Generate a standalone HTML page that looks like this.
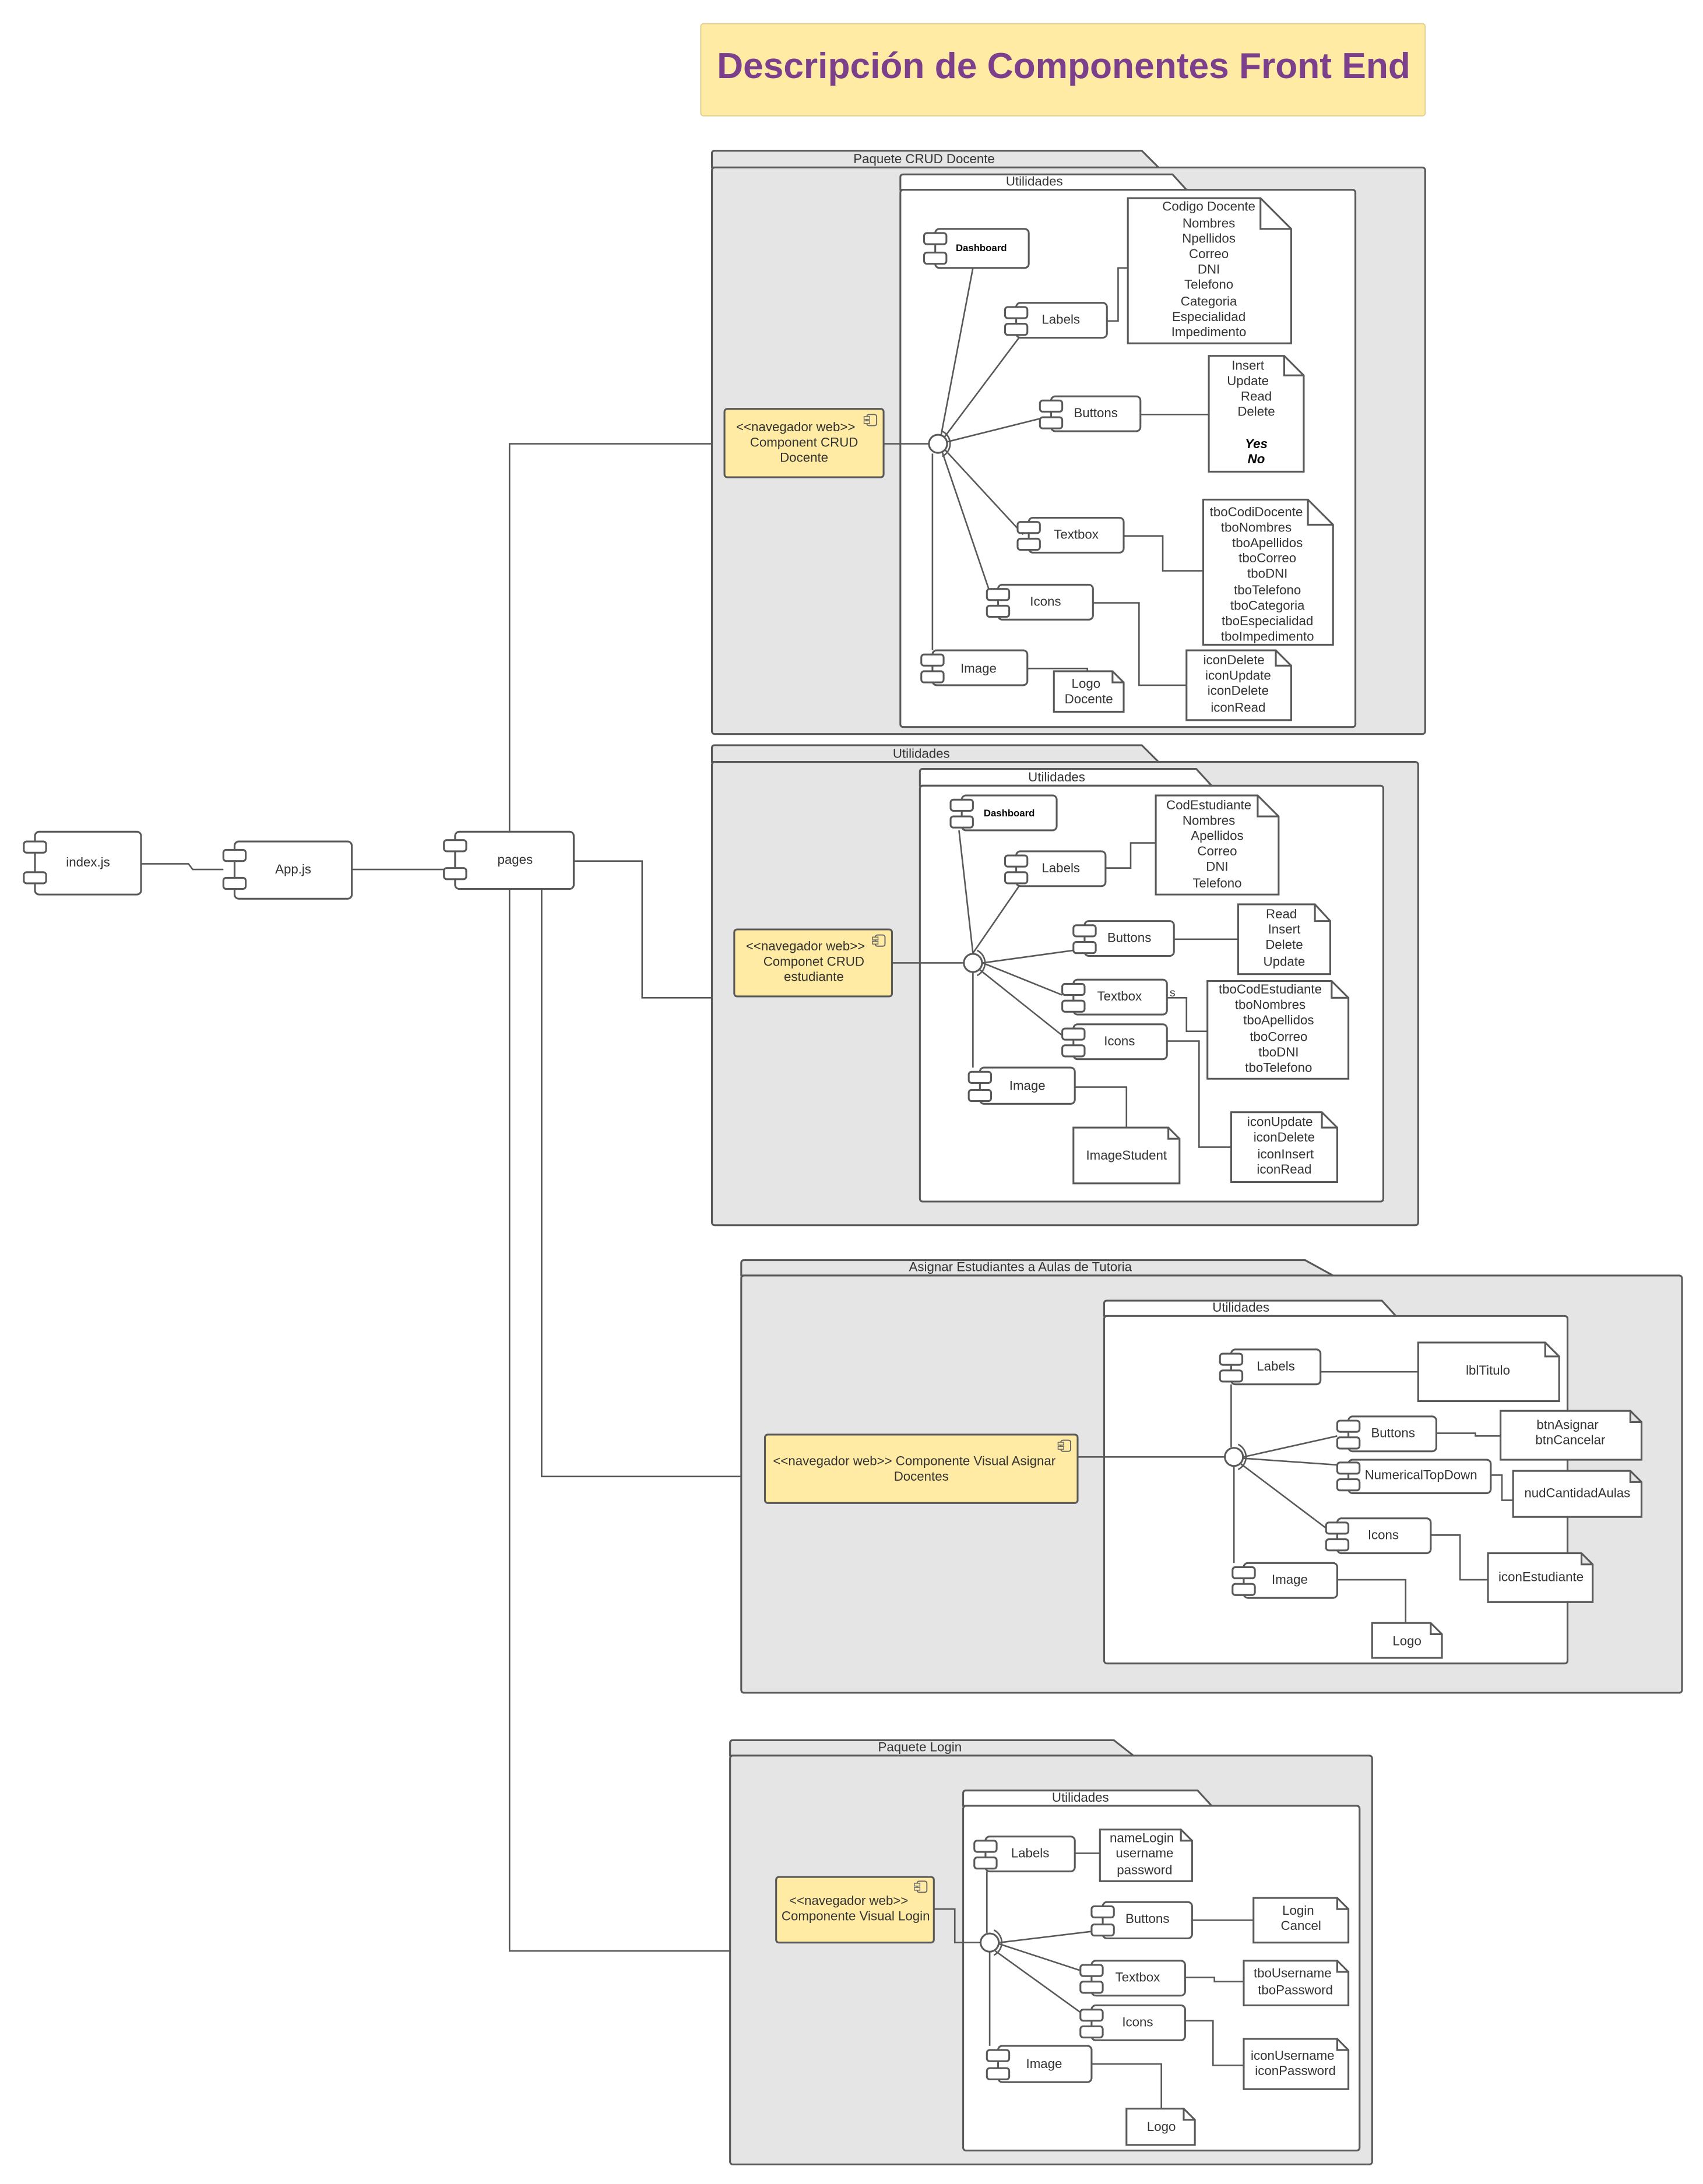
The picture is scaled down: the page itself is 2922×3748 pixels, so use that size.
<!DOCTYPE html>
<html><head><meta charset="utf-8"><style>
html,body{margin:0;padding:0;background:#fff}
svg{display:block}
text{font-family:"Liberation Sans",sans-serif;font-size:9.3px;fill:#333;text-anchor:middle}
.pk{fill:#e5e5e5;stroke:#595959;stroke-width:1.3}
.ut{fill:#fff;stroke:#595959;stroke-width:1.3}
.c{fill:#fff;stroke:#595959;stroke-width:1.3}
.y{fill:#ffeba3;stroke:#595959;stroke-width:1.3}
.l{fill:none;stroke:#595959;stroke-width:1.1}
</style></head><body>
<svg width="2922" height="3748" viewBox="0 0 1220 1565" xmlns="http://www.w3.org/2000/svg">
<defs>
<g id="ci"><rect x="0" y="0" width="7" height="8" rx="1.5" fill="none" stroke="#666" stroke-width="0.8"/><rect x="-2" y="1.5" width="4" height="2" fill="#ffeba3" stroke="#666" stroke-width="0.6"/><rect x="-2" y="4.5" width="4" height="2" fill="#ffeba3" stroke="#666" stroke-width="0.6"/></g>
</defs>

<!-- Title -->
<rect x="502" y="17" width="519" height="66" rx="2" fill="#ffeba3" stroke="#e0d090" stroke-width="0.8"/>
<text x="762" y="56" style="font-size:26px;font-weight:bold;fill:#7b3f8c">Descripción de Componentes Front End</text>

<!-- Left chain -->
<g>
<rect x="25" y="596" width="76" height="45" rx="3" class="c"/><rect x="17" y="603" width="16" height="8" rx="2" class="c"/><rect x="17" y="625" width="16" height="8" rx="2" class="c"/>
<text x="63" y="621">index.js</text>
<rect x="168" y="603" width="84" height="41" rx="3" class="c"/><rect x="160" y="609" width="16" height="8" rx="2" class="c"/><rect x="160" y="629" width="16" height="8" rx="2" class="c"/>
<text x="210" y="626">App.js</text>
<rect x="326" y="596" width="85" height="41" rx="3" class="c"/><rect x="318" y="602" width="16" height="8" rx="2" class="c"/><rect x="318" y="622" width="16" height="8" rx="2" class="c"/>
<text x="369" y="619">pages</text>
<path class="l" d="M101 619H135L138 623H160M252 623H318M365 596V318H510M411 617H460V715H510M388 637V1058H531M365 637V1398H523"/>
</g>

<!-- ===== Package 1 ===== -->
<path class="pk" d="M510 120V110Q510 108 512 108H818L830 120Z"/>
<rect x="510" y="120" width="511" height="406" rx="2" class="pk"/>
<text x="662" y="117">Paquete CRUD Docente</text>
<path class="ut" d="M645 136V127Q645 125 647 125H840L850 136Z"/>
<rect x="645" y="136" width="326" height="385" rx="2" class="ut"/>
<text x="741" y="133">Utilidades</text>
<rect x="519" y="293" width="114" height="49" rx="2" class="y"/>
<use href="#ci" x="621" y="297"/>
<text x="570" y="309">&lt;&lt;navegador web&gt;&gt;</text><text x="576" y="320">Component CRUD</text><text x="576" y="331">Docente</text>
<path class="l" d="M633 318H665"/>
<path class="l" d="M697 192L673 318M730 242L673 318M745 300L673 318M733 383L673 318M710 427L673 318M668 325V466M793 230H801V192H808M817 297H866M805 384H833V409H862M783 432H816V491H850M736 479H779V486"/>
<circle cx="672" cy="318" r="6.5" fill="#fff" stroke="#595959" stroke-width="1.3"/>
<path class="l" d="M675 309A10 10 0 0 1 675 327"/>
<!-- comps -->
<g><rect x="670" y="164" width="67" height="28" rx="3" class="c"/><rect x="662" y="167" width="16" height="8" rx="2" class="c"/><rect x="662" y="181" width="16" height="8" rx="2" class="c"/><text x="703" y="180" style="font-size:7px;font-weight:bold;fill:#000">Dashboard</text></g>
<g><rect x="728" y="217" width="65" height="25" rx="3" class="c"/><rect x="720" y="220" width="16" height="8" rx="2" class="c"/><rect x="720" y="232" width="16" height="8" rx="2" class="c"/><text x="760" y="232">Labels</text></g>
<g><rect x="753" y="284" width="64" height="25" rx="3" class="c"/><rect x="745" y="287" width="16" height="8" rx="2" class="c"/><rect x="745" y="299" width="16" height="8" rx="2" class="c"/><text x="785" y="299">Buttons</text></g>
<g><rect x="737" y="371" width="68" height="25" rx="3" class="c"/><rect x="729" y="374" width="16" height="8" rx="2" class="c"/><rect x="729" y="386" width="16" height="8" rx="2" class="c"/><text x="771" y="386">Textbox</text></g>
<g><rect x="715" y="419" width="68" height="25" rx="3" class="c"/><rect x="707" y="422" width="16" height="8" rx="2" class="c"/><rect x="707" y="434" width="16" height="8" rx="2" class="c"/><text x="749" y="434">Icons</text></g>
<g><rect x="668" y="466" width="68" height="25" rx="3" class="c"/><rect x="660" y="469" width="16" height="8" rx="2" class="c"/><rect x="660" y="481" width="16" height="8" rx="2" class="c"/><text x="701" y="482">Image</text></g>
<!-- notes -->
<path class="c" d="M808 142H903L925 164V246H808Z M903 142V164H925"/>
<text x="866" y="151">Codigo Docente</text><text x="866" y="163">Nombres</text><text x="866" y="174">Npellidos</text><text x="866" y="185">Correo</text><text x="866" y="196">DNI</text><text x="866" y="207">Telefono</text><text x="866" y="219">Categoria</text><text x="866" y="230">Especialidad</text><text x="866" y="241">Impedimento</text>
<path class="c" d="M866 255H920L934 269V338H866Z M920 255V269H934"/>
<text x="894" y="265">Insert</text><text x="894" y="276">Update</text><text x="900" y="287">Read</text><text x="900" y="298">Delete</text><text x="900" y="321" style="font-weight:bold;font-style:italic;fill:#000">Yes</text><text x="900" y="332" style="font-weight:bold;font-style:italic;fill:#000">No</text>
<path class="c" d="M862 358H937L955 376V462H862Z M937 358V376H955"/>
<text x="900" y="370">tboCodiDocente</text><text x="900" y="381">tboNombres</text><text x="908" y="392">tboApellidos</text><text x="908" y="403">tboCorreo</text><text x="908" y="414">tboDNI</text><text x="908" y="426">tboTelefono</text><text x="908" y="437">tboCategoria</text><text x="908" y="448">tboEspecialidad</text><text x="908" y="459">tboImpedimento</text>
<path class="c" d="M850 466H914L925 477V516H850Z M914 466V477H925"/>
<text x="884" y="476">iconDelete</text><text x="887" y="487">iconUpdate</text><text x="887" y="498">iconDelete</text><text x="887" y="510">iconRead</text>
<path class="c" d="M755 481H797L805 489V510H755Z M797 481V489H805"/>
<text x="778" y="493">Logo</text><text x="780" y="504">Docente</text>

<!-- ===== Package 2 ===== -->
<path class="pk" d="M510 546V536Q510 534 512 534H818L830 546Z"/>
<rect x="510" y="546" width="506" height="332" rx="2" class="pk"/>
<text x="660" y="543">Utilidades</text>
<path class="ut" d="M659 563V553Q659 551 661 551H857L868 563Z"/>
<rect x="659" y="563" width="332" height="298" rx="2" class="ut"/>
<text x="757" y="560">Utilidades</text>
<rect x="526" y="666" width="113" height="48" rx="2" class="y"/>
<use href="#ci" x="627" y="670"/>
<text x="577" y="681">&lt;&lt;navegador web&gt;&gt;</text><text x="583" y="692">Componet CRUD</text><text x="583" y="703">estudiante</text>
<path class="l" d="M639 690H690"/>
<path class="l" d="M687 595L697 683M730 635L697 683M769 681L704 690M761 713L704 690M761 742L702 695M697 697V765M792 622H810V604H828M841 673H887M836 715H850V739H865M836 746H859V822H882M770 779H807V808"/>
<circle cx="697" cy="690" r="6.5" fill="#fff" stroke="#595959" stroke-width="1.3"/>
<path class="l" d="M700 681A10 10 0 0 1 700 699"/>
<text x="840" y="714" style="font-size:8px">s</text>
<g><rect x="689" y="570" width="68" height="25" rx="3" class="c"/><rect x="681" y="573" width="16" height="8" rx="2" class="c"/><rect x="681" y="585" width="16" height="8" rx="2" class="c"/><text x="723" y="585" style="font-size:7px;font-weight:bold;fill:#000">Dashboard</text></g>
<g><rect x="728" y="610" width="64" height="25" rx="3" class="c"/><rect x="720" y="613" width="16" height="8" rx="2" class="c"/><rect x="720" y="625" width="16" height="8" rx="2" class="c"/><text x="760" y="625">Labels</text></g>
<g><rect x="777" y="660" width="64" height="25" rx="3" class="c"/><rect x="769" y="663" width="16" height="8" rx="2" class="c"/><rect x="769" y="675" width="16" height="8" rx="2" class="c"/><text x="809" y="675">Buttons</text></g>
<g><rect x="769" y="702" width="67" height="25" rx="3" class="c"/><rect x="761" y="705" width="16" height="8" rx="2" class="c"/><rect x="761" y="717" width="16" height="8" rx="2" class="c"/><text x="802" y="717">Textbox</text></g>
<g><rect x="769" y="734" width="67" height="25" rx="3" class="c"/><rect x="761" y="737" width="16" height="8" rx="2" class="c"/><rect x="761" y="749" width="16" height="8" rx="2" class="c"/><text x="802" y="749">Icons</text></g>
<g><rect x="702" y="765" width="68" height="26" rx="3" class="c"/><rect x="694" y="768" width="16" height="8" rx="2" class="c"/><rect x="694" y="781" width="16" height="8" rx="2" class="c"/><text x="736" y="781">Image</text></g>
<path class="c" d="M828 570H901L916 585V641H828Z M901 570V585H916"/>
<text x="866" y="580">CodEstudiante</text><text x="866" y="591">Nombres</text><text x="872" y="602">Apellidos</text><text x="872" y="613">Correo</text><text x="872" y="624">DNI</text><text x="872" y="636">Telefono</text>
<path class="c" d="M887 648H942L953 660V698H887Z M942 648V660H953"/>
<text x="918" y="658">Read</text><text x="920" y="669">Insert</text><text x="920" y="680">Delete</text><text x="920" y="692">Update</text>
<path class="c" d="M865 703H954L966 715V773H865Z M954 703V715H966"/>
<text x="910" y="712">tboCodEstudiante</text><text x="910" y="723">tboNombres</text><text x="916" y="734">tboApellidos</text><text x="916" y="746">tboCorreo</text><text x="916" y="757">tboDNI</text><text x="916" y="768">tboTelefono</text>
<path class="c" d="M882 797H947L958 808V847H882Z M947 797V808H958"/>
<text x="917" y="807">iconUpdate</text><text x="920" y="818">iconDelete</text><text x="921" y="830">iconInsert</text><text x="920" y="841">iconRead</text>
<path class="c" d="M769 808H837L845 816V848H769Z M837 808V816H845"/>
<text x="807" y="831">ImageStudent</text>

<!-- ===== Package 3 ===== -->
<path class="pk" d="M531 914V905Q531 903 533 903H935L955 914Z"/>
<rect x="531" y="914" width="674" height="299" rx="2" class="pk"/>
<text x="731" y="911">Asignar Estudiantes a Aulas de Tutoria</text>
<path class="ut" d="M791 943V934Q791 932 793 932H990L1000 943Z"/>
<rect x="791" y="943" width="332" height="249" rx="2" class="ut"/>
<text x="889" y="940">Utilidades</text>
<rect x="548" y="1028" width="224" height="49" rx="2" class="y"/>
<use href="#ci" x="760" y="1032"/>
<text x="655" y="1050">&lt;&lt;navegador web&gt;&gt; Componente Visual Asignar</text><text x="660" y="1061">Docentes</text>
<path class="l" d="M772 1044H877"/>
<path class="l" d="M882 992V1037M958 1029L891 1044M962 1050L891 1045M950 1095L889 1049M884 1051V1120M946 983H1016M1029 1027H1057V1029H1075M1068 1057H1076V1075H1084M1025 1100H1046V1132H1066M958 1132H1007V1163"/>
<circle cx="884" cy="1044" r="6.5" fill="#fff" stroke="#595959" stroke-width="1.3"/>
<path class="l" d="M887 1035A10 10 0 0 1 887 1053"/>
<g><rect x="882" y="967" width="64" height="25" rx="3" class="c"/><rect x="874" y="970" width="16" height="8" rx="2" class="c"/><rect x="874" y="982" width="16" height="8" rx="2" class="c"/><text x="914" y="982">Labels</text></g>
<g><rect x="966" y="1015" width="63" height="25" rx="3" class="c"/><rect x="958" y="1018" width="16" height="8" rx="2" class="c"/><rect x="958" y="1030" width="16" height="8" rx="2" class="c"/><text x="998" y="1030">Buttons</text></g>
<g><rect x="966" y="1046" width="102" height="24" rx="3" class="c"/><rect x="958" y="1048" width="16" height="8" rx="2" class="c"/><rect x="958" y="1060" width="16" height="8" rx="2" class="c"/><text x="1018" y="1060">NumericalTopDown</text></g>
<g><rect x="958" y="1088" width="67" height="25" rx="3" class="c"/><rect x="950" y="1091" width="16" height="8" rx="2" class="c"/><rect x="950" y="1103" width="16" height="8" rx="2" class="c"/><text x="991" y="1103">Icons</text></g>
<g><rect x="891" y="1120" width="67" height="25" rx="3" class="c"/><rect x="883" y="1123" width="16" height="8" rx="2" class="c"/><rect x="883" y="1135" width="16" height="8" rx="2" class="c"/><text x="924" y="1135">Image</text></g>
<path class="c" d="M1016 962H1107L1117 972V1004H1016Z M1107 962V972H1117"/>
<text x="1066" y="985">lblTitulo</text>
<path class="c" d="M1075 1011H1168L1176 1019V1046H1075Z M1168 1011V1019H1176"/>
<text x="1123" y="1024">btnAsignar</text><text x="1125" y="1035">btnCancelar</text>
<path class="c" d="M1084 1054H1168L1176 1062V1087H1084Z M1168 1054V1062H1176"/>
<text x="1130" y="1073">nudCantidadAulas</text>
<path class="c" d="M1066 1113H1133L1141 1121V1148H1066Z M1133 1113V1121H1141"/>
<text x="1104" y="1133">iconEstudiante</text>
<path class="c" d="M983 1163H1025L1033 1171V1188H983Z M1025 1163V1171H1033"/>
<text x="1008" y="1179">Logo</text>

<!-- ===== Package 4 ===== -->
<path class="pk" d="M523 1258V1249Q523 1247 525 1247H798L812 1258Z"/>
<rect x="523" y="1258" width="460" height="293" rx="2" class="pk"/>
<text x="659" y="1255">Paquete Login</text>
<path class="ut" d="M690 1294V1285Q690 1283 692 1283H858L868 1294Z"/>
<rect x="690" y="1294" width="284" height="247" rx="2" class="ut"/>
<text x="774" y="1291">Utilidades</text>
<rect x="556" y="1345" width="113" height="47" rx="2" class="y"/>
<use href="#ci" x="657" y="1348"/>
<text x="608" y="1365">&lt;&lt;navegador web&gt;&gt;</text><text x="613" y="1376">Componente Visual Login</text>
<path class="l" d="M669 1368H684V1392H702"/>
<path class="l" d="M707 1341V1385M782 1384L716 1392M774 1412L716 1393M774 1442L713 1398M709 1399V1466M770 1328H788M854 1376H898M849 1417H870V1420H891M849 1448H869V1480H891M782 1479H832V1511"/>
<circle cx="709" cy="1392" r="6.5" fill="#fff" stroke="#595959" stroke-width="1.3"/>
<path class="l" d="M712 1383A10 10 0 0 1 712 1401"/>
<g><rect x="706" y="1316" width="64" height="25" rx="3" class="c"/><rect x="698" y="1319" width="16" height="8" rx="2" class="c"/><rect x="698" y="1331" width="16" height="8" rx="2" class="c"/><text x="738" y="1331">Labels</text></g>
<g><rect x="790" y="1363" width="64" height="26" rx="3" class="c"/><rect x="782" y="1366" width="16" height="8" rx="2" class="c"/><rect x="782" y="1379" width="16" height="8" rx="2" class="c"/><text x="822" y="1378">Buttons</text></g>
<g><rect x="782" y="1405" width="67" height="25" rx="3" class="c"/><rect x="774" y="1408" width="16" height="8" rx="2" class="c"/><rect x="774" y="1420" width="16" height="8" rx="2" class="c"/><text x="815" y="1420">Textbox</text></g>
<g><rect x="782" y="1437" width="67" height="25" rx="3" class="c"/><rect x="774" y="1440" width="16" height="8" rx="2" class="c"/><rect x="774" y="1452" width="16" height="8" rx="2" class="c"/><text x="815" y="1452">Icons</text></g>
<g><rect x="715" y="1466" width="67" height="26" rx="3" class="c"/><rect x="707" y="1469" width="16" height="8" rx="2" class="c"/><rect x="707" y="1482" width="16" height="8" rx="2" class="c"/><text x="748" y="1482">Image</text></g>
<path class="c" d="M788 1311H846L854 1319V1348H788Z M846 1311V1319H854"/>
<text x="818" y="1320">nameLogin</text><text x="820" y="1331">username</text><text x="820" y="1343">password</text>
<path class="c" d="M898 1360H958L966 1368V1392H898Z M958 1360V1368H966"/>
<text x="930" y="1372">Login</text><text x="932" y="1383">Cancel</text>
<path class="c" d="M891 1405H958L966 1413V1437H891Z M958 1405V1413H966"/>
<text x="926" y="1417">tboUsername</text><text x="928" y="1429">tboPassword</text>
<path class="c" d="M891 1461H958L966 1469V1497H891Z M958 1461V1469H966"/>
<text x="926" y="1476">iconUsername</text><text x="928" y="1487">iconPassword</text>
<path class="c" d="M807 1511H848L856 1519V1537H807Z M848 1511V1519H856"/>
<text x="832" y="1527">Logo</text>
</svg>
</body></html>
